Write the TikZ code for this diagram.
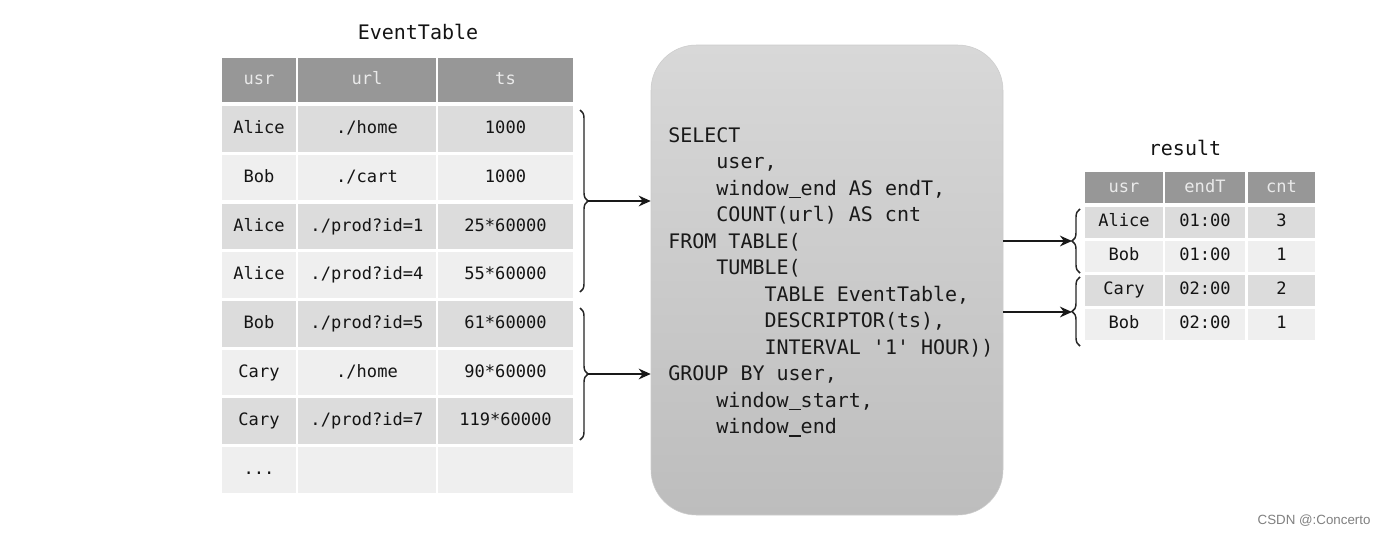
\documentclass[tikz,border=0pt]{standalone}
\usepackage{fontspec}
\setmonofont{DejaVu Sans Mono}[WordSpace={1,0,0}]
\setsansfont{Liberation Sans}
\usepackage{xcolor}
\usepackage{tikz}
\usetikzlibrary{shapes,arrows.meta,positioning,decorations.pathreplacing}

\definecolor{headgray}{HTML}{979797}
\definecolor{headtext}{HTML}{EAEAEA}
\definecolor{rowdark}{HTML}{DCDCDC}
\definecolor{rowlight}{HTML}{EFEFEF}
\definecolor{celltext}{HTML}{141414}
\definecolor{sqltop}{HTML}{D8D8D8}
\definecolor{sqlbot}{HTML}{BDBDBD}

\tikzset{
    cell/.style={inner sep=0pt, text height=9.5pt, text depth=2.5pt,
        font=\ttfamily\fontsize{12.8}{15}\selectfont, text=celltext},
    head/.style={cell, fill=headgray, text=headtext},
    dark/.style={cell, fill=rowdark},
    light/.style={cell, fill=rowlight},
    % event table columns and rows
    ucol/.style={minimum width=55.5pt},
    lcol/.style={minimum width=103.5pt},
    tcol/.style={minimum width=101.25pt},
    erow/.style={minimum height=34.1pt},
    ehead/.style={minimum height=33pt},
    % result table columns and rows
    rucol/.style={minimum width=58.5pt},
    recol/.style={minimum width=60pt},
    rccol/.style={minimum width=50.25pt},
    rrow/.style={minimum height=23.25pt},
    tabtitle/.style={font=\ttfamily\fontsize{15}{18}\selectfont, text=celltext},
    sqlbox/.style={rounded corners=34pt, draw=gray!40, top color=sqltop, bottom color=sqlbot,
        minimum width=264pt, minimum height=352.5pt, inner sep=0pt},
    sqltext/.style={align=left, inner sep=0pt,
        font=\ttfamily\fontsize{15}{19.9}\selectfont, text=black!90},
    brace/.style={decorate, decoration={brace, amplitude=6pt, aspect=0.5},
        line width=1.1pt, draw=black!85},
    rbrace/.style={decorate, decoration={brace, mirror, amplitude=6pt, aspect=0.5},
        line width=1.1pt, draw=black!85},
    flow/.style={-{Stealth[length=9pt,width=8pt]}, line width=1.4pt, draw=black!90},
    wmtext/.style={font=\sffamily\fontsize{10}{12}\selectfont, text=black!50}
}

\newcommand{\tb}{\hphantom{xxxx}}
\newcommand{\us}{\rlap{\rule[-2.2pt]{0.6em}{1pt}}\hphantom{x}}

\begin{document}
\begin{tikzpicture}[x=0.75pt,y=-0.75pt]
    \path[use as bounding box, fill=white] (0,0) rectangle (1386,536);

    % EventTable
    \node[tabtitle] (evtitle) at (418,32) {EventTable};

    \node[head, ucol, ehead] (eh1) at (259,80) {usr};
    \node[head, lcol, ehead] (eh2) at (367,80) {url};
    \node[head, tcol, ehead] (eh3) at (505.5,80) {ts};

    \node[dark, ucol, erow] (e11) at (259,129) {Alice};
    \node[dark, lcol, erow] (e12) at (367,129) {./home};
    \node[dark, tcol, erow] (e13) at (505.5,129) {1000};

    \node[light, ucol, erow] (e21) at (259,177.7) {Bob};
    \node[light, lcol, erow] (e22) at (367,177.7) {./cart};
    \node[light, tcol, erow] (e23) at (505.5,177.7) {1000};

    \node[dark, ucol, erow] (e31) at (259,226.4) {Alice};
    \node[dark, lcol, erow] (e32) at (367,226.4) {./prod?id=1};
    \node[dark, tcol, erow] (e33) at (505.5,226.4) {25*60000};

    \node[light, ucol, erow] (e41) at (259,275.1) {Alice};
    \node[light, lcol, erow] (e42) at (367,275.1) {./prod?id=4};
    \node[light, tcol, erow] (e43) at (505.5,275.1) {55*60000};

    \node[dark, ucol, erow] (e51) at (259,323.8) {Bob};
    \node[dark, lcol, erow] (e52) at (367,323.8) {./prod?id=5};
    \node[dark, tcol, erow] (e53) at (505.5,323.8) {61*60000};

    \node[light, ucol, erow] (e61) at (259,372.5) {Cary};
    \node[light, lcol, erow] (e62) at (367,372.5) {./home};
    \node[light, tcol, erow] (e63) at (505.5,372.5) {90*60000};

    \node[dark, ucol, erow] (e71) at (259,421.2) {Cary};
    \node[dark, lcol, erow] (e72) at (367,421.2) {./prod?id=7};
    \node[dark, tcol, erow] (e73) at (505.5,421.2) {119*60000};

    \node[light, ucol, erow] (e81) at (259,469.9) {...};
    \node[light, lcol, erow] (e82) at (367,469.9) {};
    \node[light, tcol, erow] (e83) at (505.5,469.9) {};

    % query
    \node[sqlbox] (sql) at (827,280) {};
    \node[sqltext, anchor=west] (code) at (668,282) {%
        SELECT\\
        \tb user,\\
        \tb window\us end AS endT,\\
        \tb COUNT(url) AS cnt\\
        FROM TABLE(\\
        \tb TUMBLE(\\
        \tb\tb TABLE EventTable,\\
        \tb\tb DESCRIPTOR(ts),\\
        \tb\tb INTERVAL '1' HOUR))\\
        GROUP BY user,\\
        \tb window\us start,\\
        \tb window\us end};

    % windows into the query
    \draw[brace] (580,110) -- (580,292);
    \coordinate (g1) at (588,201);
    \draw[flow] (g1) -- (sql.west |- g1);

    \draw[brace] (580,308) -- (580,440);
    \coordinate (g2) at (588,374);
    \draw[flow] (g2) -- (sql.west |- g2);

    % result
    \node[tabtitle] (restitle) at (1185,148) {result};

    \node[head, rucol, rrow] (rh1) at (1124,187.5) {usr};
    \node[head, recol, rrow] (rh2) at (1205,187.5) {endT};
    \node[head, rccol, rrow] (rh3) at (1281.5,187.5) {cnt};

    \node[dark, rucol, rrow] (r11) at (1124,222) {Alice};
    \node[dark, recol, rrow] (r12) at (1205,222) {01:00};
    \node[dark, rccol, rrow] (r13) at (1281.5,222) {3};

    \node[light, rucol, rrow] (r21) at (1124,256) {Bob};
    \node[light, recol, rrow] (r22) at (1205,256) {01:00};
    \node[light, rccol, rrow] (r23) at (1281.5,256) {1};

    \node[dark, rucol, rrow] (r31) at (1124,290) {Cary};
    \node[dark, recol, rrow] (r32) at (1205,290) {02:00};
    \node[dark, rccol, rrow] (r33) at (1281.5,290) {2};

    \node[light, rucol, rrow] (r41) at (1124,324) {Bob};
    \node[light, recol, rrow] (r42) at (1205,324) {02:00};
    \node[light, rccol, rrow] (r43) at (1281.5,324) {1};

    % query out to result
    \draw[rbrace] (1080,209) -- (1080,273);
    \coordinate (k1) at (1072,241);
    \draw[flow] (sql.east |- k1) -- (k1);

    \draw[rbrace] (1080,277) -- (1080,346);
    \coordinate (k2) at (1072,312);
    \draw[flow] (sql.east |- k2) -- (k2);

    \node[wmtext, anchor=west] (wm) at (1253,521) {CSDN @:Concerto};
\end{tikzpicture}
\end{document}
